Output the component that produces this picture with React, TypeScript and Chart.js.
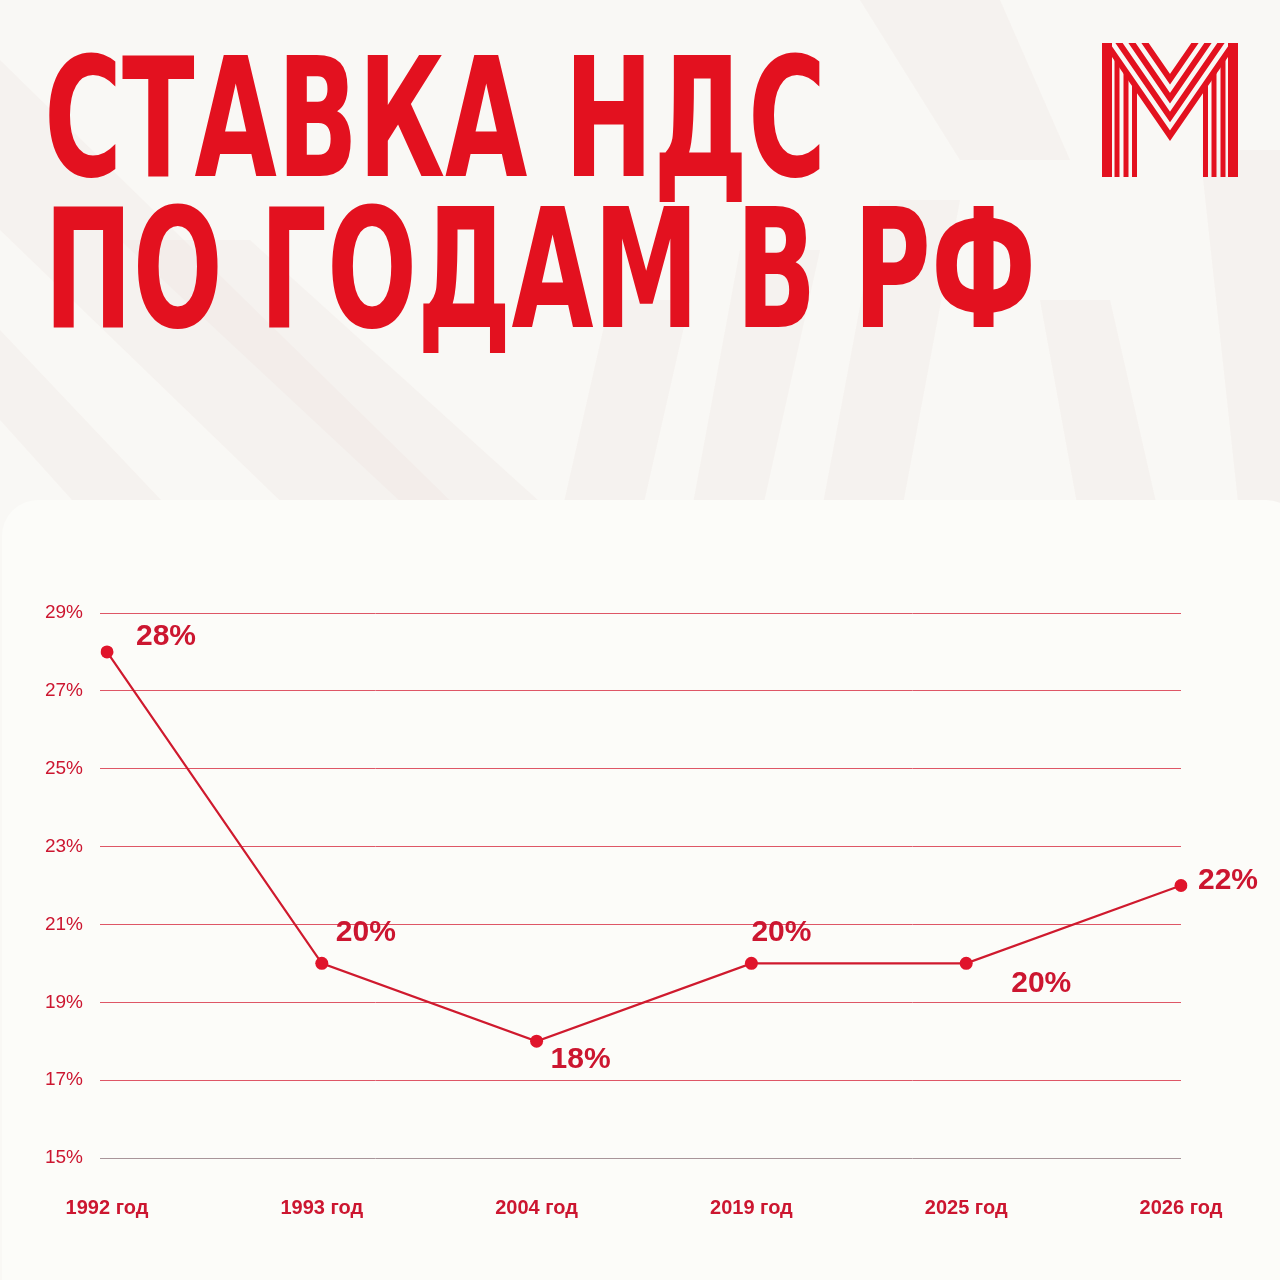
import React, { useEffect, useLayoutEffect, useRef } from "react";
import { Chart, registerables } from "chart.js";

Chart.register(...registerables);

// ---- data ----
const years = ["1992 год", "1993 год", "2004 год", "2019 год", "2025 год", "2026 год"];
const vatRates = [28, 20, 18, 20, 20, 22];
const yTickValues = [15, 17, 19, 21, 23, 25, 27, 29];
const titleLines = ["СТАВКА НДС", "ПО ГОДАМ В РФ"];

// ---- styling (label placement relative to each point) ----
const labelOffsets: [number, number][] = [
  [29, -15],
  [14, -31],
  [14, 19],
  [0, -31],
  [45, 20],
  [17, -5],
];

const LINE_RED = "#cf1a2e";
const POINT_RED = "#e0142b";
const TEXT_RED = "#cc1630";
const TITLE_RED = "#e3111f";
const GRID_RED = "#de5666";
const FONT = '"Liberation Sans", Arial, Helvetica, sans-serif';

function drawBackground(ctx: CanvasRenderingContext2D) {
  ctx.save();
  ctx.fillStyle = "#f9f8f5";
  ctx.fillRect(0, 0, 1280, 1280);
  // faint darker bands
  ctx.fillStyle = "rgba(236, 226, 223, 0.28)";
  const bands: number[][] = [
    [0, 60, 0, 230, 300, 520, 470, 520],
    [120, 240, 250, 240, 560, 520, 420, 520],
    [0, 330, 0, 420, 90, 520, 180, 520],
    [610, 300, 690, 300, 640, 520, 560, 520],
    [740, 250, 820, 250, 760, 520, 690, 520],
    [880, 200, 960, 200, 900, 520, 820, 520],
    [1040, 300, 1110, 300, 1160, 520, 1080, 520],
    [1200, 150, 1280, 150, 1280, 520, 1240, 520],
    [860, 0, 1000, 0, 1070, 160, 960, 160],
  ];
  for (const b of bands) {
    ctx.beginPath();
    ctx.moveTo(b[0], b[1]);
    ctx.lineTo(b[2], b[3]);
    ctx.lineTo(b[4], b[5]);
    ctx.lineTo(b[6], b[7]);
    ctx.closePath();
    ctx.fill();
  }
  // panel
  ctx.fillStyle = "#fcfcf9";
  ctx.beginPath();
  (ctx as any).roundRect(2, 500, 1300, 820, 36);
  ctx.fill();
  ctx.restore();
}

function drawLogo(ctx: CanvasRenderingContext2D) {
  const left = 1102, right = 1238, top = 43, bottom = 177;
  const cx = (left + right) / 2;
  const slope = 1.45;
  ctx.save();
  ctx.beginPath();
  ctx.rect(left, top, right - left, bottom - top);
  ctx.clip();
  ctx.strokeStyle = TITLE_RED;
  ctx.lineCap = "butt";
  ctx.lineJoin = "miter";
  ctx.miterLimit = 10;
  for (let k = 0; k < 4; k++) {
    const xt = left + 4 + 13 * k;
    const tipY = top + slope * (cx - xt);
    ctx.lineWidth = 6;
    ctx.beginPath();
    ctx.moveTo(xt - 20 / slope, top - 20);
    ctx.lineTo(cx, tipY);
    ctx.lineTo(2 * cx - xt + 20 / slope, top - 20);
    ctx.stroke();
  }
  const vx = [left + 5, left + 15, left + 24, left + 32.5];
  const vw = [10, 5, 5, 5];
  for (let k = 0; k < 4; k++) {
    const yEnd = k === 0 ? top - 5 : top + slope * (vx[k] - (left + 4));
    ctx.lineWidth = vw[k];
    for (const x of [vx[k], 2 * cx - vx[k]]) {
      ctx.beginPath();
      ctx.moveTo(x, bottom + 5);
      ctx.lineTo(x, yEnd);
      ctx.stroke();
    }
  }
  ctx.restore();
}

const decorPlugin = {
  id: "decor",
  beforeDraw(chart: any) {
    const ctx = chart.ctx as CanvasRenderingContext2D;
    drawBackground(ctx);
    drawLogo(ctx);
  },
  afterDatasetsDraw(chart: any) {
    const ctx = chart.ctx as CanvasRenderingContext2D;
    const meta = chart.getDatasetMeta(0);
    ctx.save();
    ctx.fillStyle = TEXT_RED;
    ctx.font = `bold 30px ${FONT}`;
    ctx.textAlign = "left";
    ctx.textBaseline = "middle";
    meta.data.forEach((pt: any, i: number) => {
      const [dx, dy] = labelOffsets[i];
      ctx.fillText(`${vatRates[i]}%`, pt.x + dx, pt.y + dy);
    });
    ctx.restore();
  },
};

function TitleLine({ text, top, width }: { text: string; top: number; width: number }) {
  const ref = useRef<HTMLSpanElement>(null);
  useLayoutEffect(() => {
    const el = ref.current;
    if (!el) return;
    el.style.transform = "none";
    const w = el.getBoundingClientRect().width;
    el.style.transform = `scaleX(${width / w})`;
  }, [text, width]);
  return (
    <span
      ref={ref}
      style={{
        position: "absolute",
        left: 44,
        top,
        display: "inline-block",
        whiteSpace: "nowrap",
        fontFamily: '"DejaVu Sans Condensed", "DejaVu Sans", sans-serif',
        fontWeight: 700,
        fontSize: 165,
        lineHeight: "165px",
        color: TITLE_RED,
        transformOrigin: "0 0",
      }}
    >
      {text}
    </span>
  );
}

export default function App() {
  const canvasRef = useRef<HTMLCanvasElement>(null);

  useEffect(() => {
    const canvas = canvasRef.current;
    if (!canvas) return;
    const chart = new Chart(canvas, {
      type: "line",
      data: {
        labels: years,
        datasets: [
          {
            data: vatRates,
            borderColor: LINE_RED,
            borderWidth: 2.2,
            backgroundColor: POINT_RED,
            pointBackgroundColor: POINT_RED,
            pointBorderWidth: 0,
            pointRadius: 6.5,
            tension: 0,
            fill: false,
          },
        ],
      },
      options: {
        responsive: false,
        maintainAspectRatio: false,
        animation: false,
        layout: { padding: { left: 0, right: 99, top: 613, bottom: 0 } },
        plugins: {
          legend: { display: false },
          tooltip: { enabled: false },
          title: { display: false },
        },
        scales: {
          x: {
            offset: false,
            grid: { display: false, drawTicks: false },
            border: { display: false },
            ticks: {
              color: TEXT_RED,
              font: { family: FONT, size: 20, weight: "bold" },
              padding: 38,
              maxRotation: 0,
              autoSkip: false,
            },
            afterFit: (s: any) => {
              s.height = 122;
            },
          },
          y: {
            min: 15,
            max: 29,
            afterBuildTicks: (s: any) => {
              s.ticks = yTickValues.map((v) => ({ value: v }));
            },
            grid: {
              color: (c: any) => (c.tick && c.tick.value === 15 ? "#a8959a" : GRID_RED),
              lineWidth: 1,
              tickLength: 7,
              drawTicks: true,
            },
            border: { display: false },
            ticks: {
              color: TEXT_RED,
              font: { family: FONT, size: 19 },
              padding: 17,
              callback: (v: any) => `${v}%`,
            },
            afterFit: (s: any) => {
              s.width = 107;
            },
          },
        },
      },
      plugins: [decorPlugin],
    });
    return () => chart.destroy();
  }, []);

  return (
    <div style={{ position: "absolute", left: 0, top: 0, width: 1280, height: 1280, overflow: "hidden" }}>
      <canvas ref={canvasRef} width={1280} height={1280} style={{ position: "absolute", left: 0, top: 0 }} />
      <TitleLine text={titleLines[0]} top={37} width={782} />
      <TitleLine text={titleLines[1]} top={188} width={992} />
    </div>
  );
}
